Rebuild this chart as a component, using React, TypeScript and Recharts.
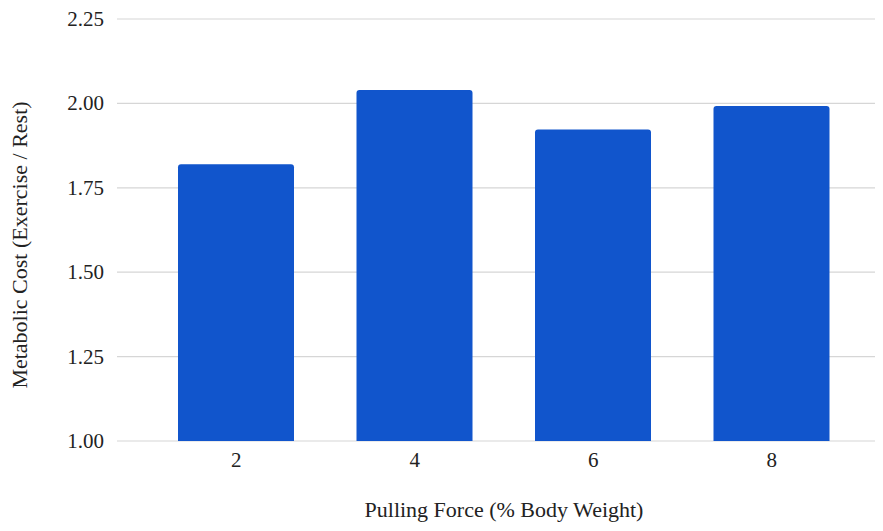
import { Bar, BarChart, CartesianGrid, XAxis, YAxis } from 'recharts';

const forces = ['2', '4', '6', '8'];
const costs = [1.82, 2.04, 1.923, 1.992];
const yTicks = [1, 1.25, 1.5, 1.75, 2, 2.25];

const chartData = forces.map((f, i) => ({ force: f, cost: costs[i] }));

const font = '"Liberation Serif", "Times New Roman", serif';
const tickStyle = { fontFamily: font, fontSize: 21, fill: '#222' };
const labelStyle = { fontFamily: font, fontSize: 22, fill: '#222' };

const XTick = (props: any) => {
  const { x, y, payload } = props;
  return (
    <text x={x} y={y} dy={18} textAnchor="middle" style={tickStyle}>
      {payload.value}
    </text>
  );
};

const YTick = (props: any) => {
  const { x, y, payload } = props;
  return (
    <text x={x} y={y} dy={7} textAnchor="end" style={tickStyle}>
      {Number(payload.value).toFixed(2)}
    </text>
  );
};

const App = () => {
  return (
    <div style={{ margin: -8, width: 883, height: 531, background: '#fff', fontFamily: font }}>
      <BarChart
        width={883}
        height={531}
        data={chartData}
        margin={{ top: 19, right: 0, bottom: 0, left: 0 }}
      >
        <CartesianGrid vertical={false} stroke="#d6d6d6" strokeWidth={1.2} />
        <XAxis
          dataKey="force"
          height={90}
          axisLine={false}
          tickLine={false}
          tickSize={0}
          tickMargin={8}
          padding={{ left: 30, right: 22 }}
          tick={<XTick />}
          label={{
            value: 'Pulling Force (% Body Weight)',
            position: 'insideBottom',
            offset: 14,
            dx: 4,
            ...labelStyle,
            style: labelStyle,
          }}
        />
        <YAxis
          width={117}
          domain={[1, 2.25]}
          ticks={yTicks}
          axisLine={false}
          tickLine={false}
          tickSize={0}
          tickMargin={13}
          tick={<YTick />}
          label={{
            value: 'Metabolic Cost (Exercise / Rest)',
            angle: -90,
            position: 'insideLeft',
            offset: 19,
            dy: 15,
            ...labelStyle,
            style: { ...labelStyle, textAnchor: 'middle' },
          }}
        />
        <Bar dataKey="cost" fill="#1155cc" barSize={116} radius={[3, 3, 0, 0]} isAnimationActive={false} />
      </BarChart>
    </div>
  );
};

export default App;
